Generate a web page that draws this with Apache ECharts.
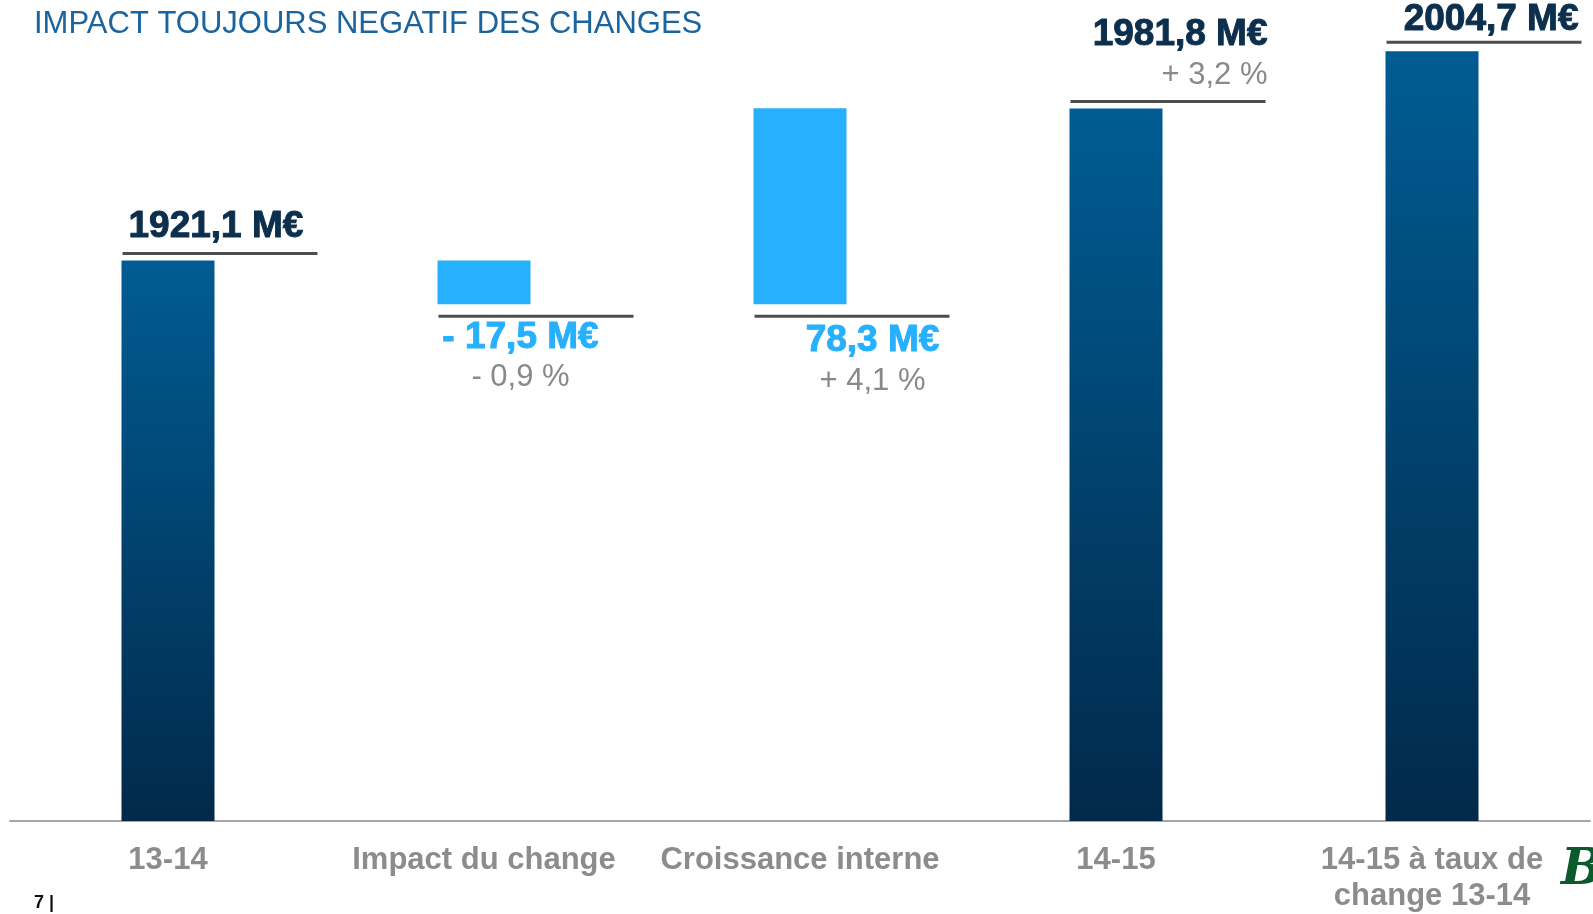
<!DOCTYPE html>
<html>
<head>
<meta charset="utf-8">
<script src="https://cdn.jsdelivr.net/npm/echarts@6/dist/echarts.min.js"></script>
<style>
  html, body { margin: 0; padding: 0; background: #fff; }
  #chart { width: 1593px; height: 914px; }
</style>
</head>
<body>
<div id="chart"></div>
<script>
// données (M€)
const categories = ['13-14', 'Impact du change', 'Croissance interne', '14-15', '14-15 à taux de\nchange 13-14']
const totals = [1921.1, null, null, 1981.8, 2004.7]
const deltas = [null, -17.5, 78.3, null, null]
const valueLabels = ['1921,1 M€', '- 17,5 M€', '78,3 M€', '1981,8 M€', '2004,7 M€']
const pctLabels = ['', '- 0,9 %', '+ 4,1 %', '+ 3,2 %', '']

// mise en page des étiquettes (px, relatif au bord gauche de la barre / au trait)
const barW = 93
const lineLen = 195
const lineOff = [-7, 12, 12, -7, -9]
const textAlign = ['left', 'center', 'center', 'right', 'right']
const textDx = [7, 83, 119, 198, 193]
const valueDy = [-27, 22, 25, -67, -22]
const pctDy = [0, 61, 65, -26, 0]

// calcul cascade
let running = totals[0]
const baseData = []
const barData = []
const lineData = []
categories.forEach((c, i) => {
    if (totals[i] != null) {
        running = totals[i]
        baseData.push(0)
        barData.push({
            value: totals[i],
            itemStyle: {
                color: new echarts.graphic.LinearGradient(0, 0, 0, 1, [
                    { offset: 0, color: '#005c93' },
                    { offset: 1, color: '#02294a' }
                ])
            }
        })
        lineData.push([i, totals[i]])
    } else {
        const d = deltas[i]
        const base = d < 0 ? running + d : running
        running += d
        baseData.push(base)
        barData.push({ value: Math.abs(d), itemStyle: { color: '#27b0fe' } })
        lineData.push([i, base])
    }
})

const chart = echarts.init(document.getElementById('chart'))

const renderLabels = (params, api) => {
    const i = api.value(0)
    const pt = api.coord([i, api.value(1)])
    const x0 = pt[0] - barW / 2
    const y = pt[1] + lineOff[i]
    const isTotal = totals[i] != null
    const children = [{
        type: 'line',
        shape: { x1: x0 + 1, y1: y, x2: x0 + 1 + lineLen, y2: y },
        style: { stroke: '#4d4d4d', lineWidth: 3 }
    }, {
        type: 'text',
        style: {
            x: x0 + textDx[i],
            y: y + valueDy[i],
            text: valueLabels[i],
            align: textAlign[i],
            verticalAlign: 'middle',
            fill: isTotal ? '#0c2f4e' : '#27b0fe',
            stroke: isTotal ? '#0c2f4e' : '#27b0fe',
            lineWidth: 1,
            font: 'bold 37px "Liberation Sans", Arial, sans-serif'
        }
    }]
    if (pctLabels[i]) {
        children.push({
            type: 'text',
            style: {
                x: x0 + textDx[i],
                y: y + pctDy[i],
                text: pctLabels[i],
                align: textAlign[i],
                verticalAlign: 'middle',
                fill: '#898989',
                font: '31px "Liberation Sans", Arial, sans-serif'
            }
        })
    }
    return { type: 'group', children: children }
}

const option = {
    animation: false,
    backgroundColor: '#fff',
    title: {
        text: 'IMPACT TOUJOURS NEGATIF DES CHANGES',
        left: 29,
        top: 4,
        textStyle: {
            color: '#1a64a0',
            fontSize: 31,
            fontWeight: 'normal',
            fontFamily: 'Liberation Sans'
        }
    },
    grid: { left: 10, right: 3, top: 38, bottom: 91, containLabel: false },
    xAxis: {
        type: 'category',
        data: categories,
        axisLine: { lineStyle: { color: '#a6a6a6', width: 2 } },
        axisTick: { show: false },
        axisLabel: {
            color: '#8c8c8c',
            fontSize: 31,
            fontWeight: 'bold',
            fontFamily: 'Liberation Sans',
            lineHeight: 36,
            margin: 21,
            interval: 0
        }
    },
    yAxis: {
        type: 'value',
        min: 1697,
        max: 2010,
        show: false,
        splitLine: { show: false }
    },
    series: [
        {
            type: 'bar',
            stack: 'w',
            data: baseData,
            barWidth: barW,
            itemStyle: { color: 'transparent' },
            silent: true
        },
        {
            type: 'bar',
            stack: 'w',
            data: barData,
            barWidth: barW,
            clip: true
        },
        {
            type: 'custom',
            data: lineData,
            renderItem: renderLabels,
            z: 10
        }
    ],
    graphic: [
        {
            type: 'text',
            left: 34,
            top: 894,
            style: { text: '7 |', font: 'bold 18px "Liberation Sans", Arial', fill: '#111' }
        },
        {
            type: 'text',
            left: 1561,
            top: 846,
            style: { text: 'B', font: 'italic bold 50px "DejaVu Serif", serif', fill: '#0b5a2c' }
        }
    ]
}

chart.setOption(option)
</script>
</body>
</html>
